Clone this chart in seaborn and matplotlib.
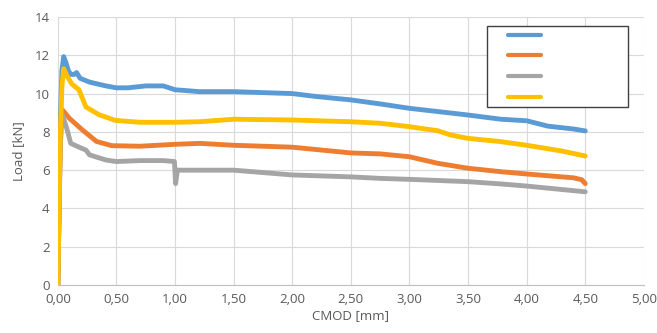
import pandas as pd
import matplotlib
matplotlib.use("Agg")
import matplotlib.pyplot as plt
from matplotlib.patches import Rectangle
import seaborn as sns

# load-CMOD curves
blue_x = [0, 0.01, 0.02, 0.035, 0.05, 0.07, 0.09, 0.11, 0.14, 0.16, 0.19, 0.27, 0.41, 0.5, 0.6, 0.75, 0.9, 1.0, 1.21, 1.5, 2.0, 2.2, 2.5, 2.75, 3.0, 3.5, 3.78, 4.0, 4.18, 4.4, 4.5]
blue_y = [0, 4.0, 8.5, 11.2, 11.93, 11.6, 11.2, 11.0, 11.0, 11.1, 10.8, 10.6, 10.4, 10.3, 10.3, 10.4, 10.4, 10.2, 10.1, 10.1, 10.0, 9.85, 9.67, 9.46, 9.23, 8.88, 8.66, 8.58, 8.3, 8.15, 8.05]

orange_x = [0, 0.01, 0.02, 0.03, 0.04, 0.1, 0.21, 0.33, 0.46, 0.7, 1.0, 1.21, 1.5, 2.0, 2.5, 2.75, 3.0, 3.24, 3.5, 3.78, 4.0, 4.4, 4.47, 4.5]
orange_y = [0, 3.5, 7.0, 8.7, 9.14, 8.7, 8.1, 7.5, 7.28, 7.25, 7.35, 7.4, 7.3, 7.2, 6.9, 6.85, 6.7, 6.36, 6.1, 5.92, 5.8, 5.6, 5.5, 5.3]

gray_x = [0, 0.01, 0.02, 0.03, 0.04, 0.08, 0.11, 0.2, 0.24, 0.27, 0.41, 0.5, 0.7, 0.9, 0.995, 1.005, 1.02, 1.21, 1.5, 2.0, 2.5, 2.75, 3.0, 3.5, 3.78, 4.0, 4.5]
gray_y = [0, 3.5, 7.0, 8.5, 8.88, 8.1, 7.4, 7.15, 7.05, 6.8, 6.53, 6.45, 6.5, 6.5, 6.45, 5.3, 6.0, 6.0, 6.0, 5.75, 5.65, 5.57, 5.52, 5.4, 5.28, 5.17, 4.87]

yellow_x = [0, 0.01, 0.02, 0.035, 0.05, 0.08, 0.12, 0.18, 0.24, 0.35, 0.49, 0.7, 1.0, 1.21, 1.5, 2.0, 2.5, 2.75, 3.0, 3.24, 3.35, 3.5, 3.78, 4.0, 4.3, 4.5]
yellow_y = [0, 3.8, 7.6, 10.4, 11.3, 10.9, 10.5, 10.2, 9.3, 8.9, 8.6, 8.5, 8.5, 8.53, 8.66, 8.62, 8.53, 8.45, 8.27, 8.06, 7.84, 7.66, 7.49, 7.3, 7.0, 6.74]

series_names = ["S1", "S2", "S3", "S4"]
colors = ["#5B9BD5", "#ED7D31", "#A5A5A5", "#FFC000"]

x_ticks = [0, 0.5, 1, 1.5, 2, 2.5, 3, 3.5, 4, 4.5, 5]
x_tick_labels = ["0,00", "0,50", "1,00", "1,50", "2,00", "2,50", "3,00", "3,50", "4,00", "4,50", "5,00"]
y_ticks = [0, 2, 4, 6, 8, 10, 12, 14]

frames = []
for name, xs, ys in zip(series_names, [blue_x, orange_x, gray_x, yellow_x],
                        [blue_y, orange_y, gray_y, yellow_y]):
    frames.append(pd.DataFrame({"cmod": xs, "load": ys, "series": name}))
df = pd.concat(frames, ignore_index=True)

sns.set_style("white")
plt.rcParams["font.family"] = ["Open Sans", "DejaVu Sans"]

fig = plt.figure(figsize=(6.57, 3.33), dpi=100)
ax = fig.add_axes([0.088, 0.144, 0.892, 0.805])

sns.lineplot(data=df, x="cmod", y="load", hue="series", palette=colors,
             estimator=None, sort=False, linewidth=3.5, ax=ax, legend=False)

ax.set_xlim(0, 5)
ax.set_ylim(0, 14)
ax.set_xticks(x_ticks)
ax.set_xticklabels(x_tick_labels)
ax.set_yticks(y_ticks)
ax.grid(True, color="#D9D9D9", linewidth=0.8)
ax.set_axisbelow(True)
for side in ["top", "right", "left"]:
    ax.spines[side].set_visible(False)
ax.spines["bottom"].set_color("#BFBFBF")
ax.tick_params(axis="both", length=0, labelsize=9.5, labelcolor="#595959", pad=6)
ax.set_xlabel("CMOD [mm]", fontsize=9.5, color="#595959", labelpad=2)
ax.set_ylabel("Load [kN]", fontsize=9.5, color="#595959", labelpad=7)

# legend box (labels are blank in the original)
ax.add_patch(Rectangle((0.732, 0.664), 0.241, 0.302, transform=ax.transAxes,
                       facecolor="white", edgecolor="#404040", linewidth=1.0,
                       zorder=4))
handles = [plt.Line2D([], [], color=c, linewidth=3) for c in colors]
leg = ax.legend(handles, [" "] * 4, loc="upper left",
                bbox_to_anchor=(0.768, 0.955), frameon=False,
                handlelength=2.64, labelspacing=0.62, borderpad=0,
                borderaxespad=0, fontsize=9)
leg.set_zorder(5)

fig.savefig("out.png", dpi=100)
